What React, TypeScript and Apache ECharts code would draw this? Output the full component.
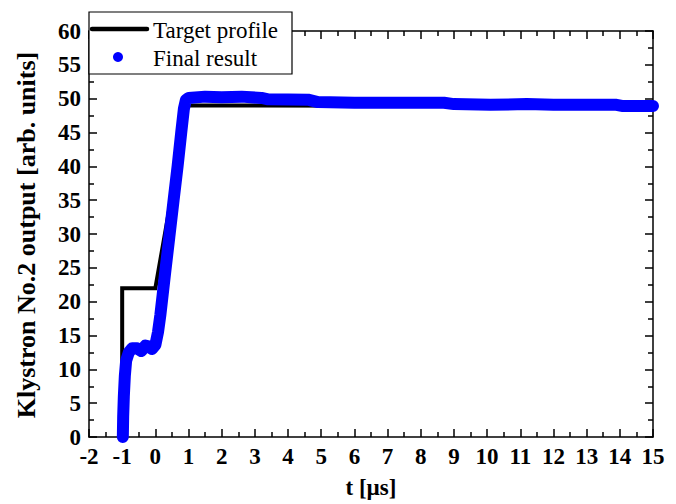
import React, { useEffect, useRef } from "react";
import * as echarts from "echarts";

const targetProfile: [number, number][] = [
  [-1, 0], [-1, 22], [0, 22], [0.97, 49.0], [15, 48.9],
];

const finalResult: [number, number][] = [
  [-0.98, 0], [-0.97, 3], [-0.95, 6], [-0.92, 9], [-0.88, 11.3], [-0.8, 12.5],
  [-0.7, 13.1], [-0.55, 13.1], [-0.42, 12.7], [-0.3, 13.5], [-0.2, 13.4],
  [-0.1, 13.0], [0.0, 13.6], [0.08, 15.5], [0.15, 18], [0.22, 21], [0.3, 24.5],
  [0.42, 29.5], [0.55, 35], [0.67, 40], [0.78, 45], [0.86, 48.5], [0.92, 49.8],
  [1.0, 50.1], [1.5, 50.3], [2.0, 50.2], [2.6, 50.3], [3.2, 50.1], [3.4, 49.9],
  [4.6, 49.85], [4.9, 49.5], [6.0, 49.4], [8.7, 49.4], [9.0, 49.2], [10.1, 49.1],
  [11.2, 49.2], [12.0, 49.1], [13.9, 49.1], [14.1, 48.9], [15, 48.9],
];

const xTicks = { min: -2, max: 15, interval: 1 };
const yTicks = { min: 0, max: 60, interval: 5 };

const FONT = "Liberation Serif";

export default function App() {
  const ref = useRef<HTMLDivElement>(null);
  useEffect(() => {
    if (!ref.current) return;
    const chart = echarts.init(ref.current, undefined, { renderer: "svg" });
    const axisLine = { show: true, onZero: false, lineStyle: { color: "#000", width: 1.5 } };
    const tick = { show: true, inside: true, length: 8, lineStyle: { color: "#000", width: 1.5 } };
    const minor = { show: true, splitNumber: 2, length: 5, lineStyle: { color: "#000", width: 1.5 } };
    const label = { color: "#000", fontFamily: FONT, fontWeight: "bold" as const, fontSize: 23 };
    const legendText = { fill: "#000", fontFamily: FONT, fontSize: 23, verticalAlign: "middle" as const };
    chart.setOption({
      animation: false,
      backgroundColor: "#fff",
      grid: { left: 89, right: 23, top: 31, bottom: 62 },
      xAxis: [
        {
          type: "value", ...xTicks, position: "bottom",
          axisLine, axisTick: tick, minorTick: minor, splitLine: { show: false },
          axisLabel: { ...label, margin: 8 },
          name: "t [µs]", nameLocation: "middle", nameGap: 39,
          nameTextStyle: { ...label },
        },
        {
          type: "value", ...xTicks, position: "top",
          axisLine, axisTick: tick, minorTick: minor, splitLine: { show: false },
          axisLabel: { show: false },
        },
      ],
      yAxis: [
        {
          type: "value", ...yTicks, position: "left",
          axisLine, axisTick: tick, minorTick: minor, splitLine: { show: false },
          axisLabel: { ...label, margin: 8 },
        },
        {
          type: "value", ...yTicks, position: "right",
          axisLine, axisTick: tick, minorTick: minor, splitLine: { show: false },
          axisLabel: { show: false },
        },
      ],
      series: [
        {
          name: "Target profile", type: "line", data: targetProfile,
          symbol: "none", z: 2,
          lineStyle: { color: "#000", width: 4, join: "miter" },
        },
        {
          name: "Final result", type: "line", data: finalResult,
          symbol: "none", z: 3,
          lineStyle: { color: "#0000ff", width: 12, cap: "round", join: "round" },
        },
      ],
      graphic: [
        {
          type: "text", x: 26, y: 235, rotation: Math.PI / 2,
          style: {
            text: "Klystron No.2 output [arb. units]", fill: "#000",
            fontFamily: FONT, fontWeight: "bold", fontSize: 26,
            align: "center", verticalAlign: "middle",
          },
        },
        {
          type: "rect", z: 100, shape: { x: 89, y: 12, width: 203, height: 62 },
          style: { fill: "#fff", stroke: "#000", lineWidth: 1.2 },
        },
        {
          type: "line", z: 101, shape: { x1: 92, y1: 29, x2: 147, y2: 29 },
          style: { stroke: "#000", lineWidth: 4.5, lineCap: "round" },
        },
        {
          type: "text", z: 101, x: 153, y: 30,
          style: { text: "Target profile", ...legendText },
        },
        {
          type: "circle", z: 101, shape: { cx: 118, cy: 57, r: 5 },
          style: { fill: "#0000ff" },
        },
        {
          type: "text", z: 101, x: 153, y: 58,
          style: { text: "Final result", ...legendText },
        },
      ],
    });
    return () => chart.dispose();
  }, []);
  return <div ref={ref} style={{ width: 676, height: 504, position: "absolute", left: 0, top: 0 }} />;
}
